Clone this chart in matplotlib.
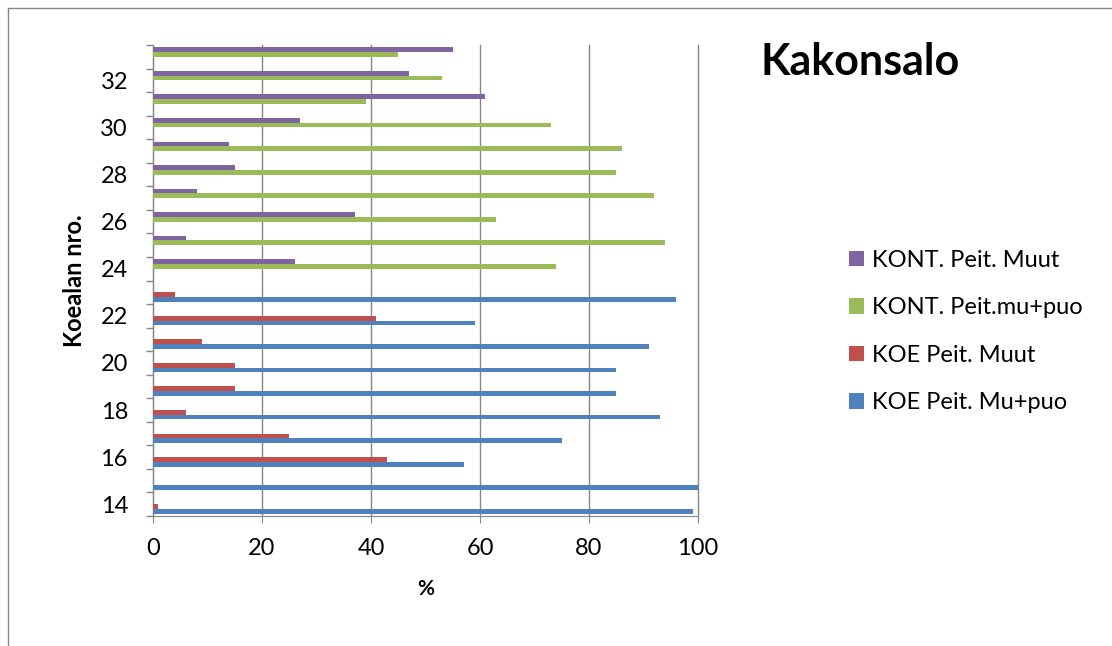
import matplotlib
matplotlib.use("Agg")
import matplotlib.pyplot as plt
import numpy as np
from matplotlib.patches import Patch
from matplotlib.lines import Line2D

categories = list(range(14, 34))
koe_mu_puo = [99, 100, 57, 75, 93, 85, 85, 91, 59, 96, 0, 0, 0, 0, 0, 0, 0, 0, 0, 0]
koe_muut = [1, 0, 43, 25, 6, 15, 15, 9, 41, 4, 0, 0, 0, 0, 0, 0, 0, 0, 0, 0]
kont_mu_puo = [0, 0, 0, 0, 0, 0, 0, 0, 0, 0, 74, 94, 63, 92, 85, 86, 73, 39, 53, 45]
kont_muut = [0, 0, 0, 0, 0, 0, 0, 0, 0, 0, 26, 6, 37, 8, 15, 14, 27, 61, 47, 55]
series_names = ["KOE Peit. Mu+puo", "KOE Peit. Muut", "KONT. Peit.mu+puo", "KONT. Peit. Muut"]
colors = ["#4F81BD", "#C0504D", "#9BBB59", "#8064A2"]
x_ticks = [0, 20, 40, 60, 80, 100]

plt.rcParams['font.family'] = ['Lato', 'DejaVu Sans']

fig = plt.figure(figsize=(11.12, 6.46), dpi=100)
ax = fig.add_axes([153/1112, 1-516/646, (698-153)/1112, (516-45)/646])

y = np.arange(len(categories))
h = 0.2
offsets = [-1.5*h, -0.5*h, 0.5*h, 1.5*h]
data = [koe_mu_puo, koe_muut, kont_mu_puo, kont_muut]
for vals, off, c in zip(data, offsets, colors):
    ax.barh(y + off, vals, height=h, color=c, edgecolor='none', zorder=3)

ax.set_xlim(0, 100)
ax.set_ylim(-0.5, len(categories) - 0.5)
ax.set_xticks(x_ticks)
ax.set_xticklabels([str(t) for t in x_ticks], fontsize=17)
ax.xaxis.grid(True, color='#868686', linewidth=1.0, zorder=0)
for gl in ax.get_xgridlines():
    gl.set_clip_on(False)
ax.set_axisbelow(True)

major = [i for i, c in enumerate(categories) if c % 2 == 0]
ax.set_yticks(major)
ax.set_yticklabels([str(categories[i]) for i in major], fontsize=17)
ax.set_yticks(np.arange(-0.5, len(categories)), minor=True)
ax.tick_params(axis='y', which='major', length=0, pad=18)
ax.tick_params(axis='y', which='minor', length=5, color='#868686', width=1)
ax.tick_params(axis='x', which='major', length=5, color='#868686', pad=11)

for s in ['top', 'right']:
    ax.spines[s].set_visible(False)
ax.spines['left'].set_color('#868686')
ax.spines['bottom'].set_color('#868686')

ax.set_xlabel('%', fontsize=15, fontweight='bold', labelpad=14)
ax.set_ylabel('Koealan nro.', fontsize=17, fontweight='bold', labelpad=10)

fig.text(760/1112, 1-62/646, 'Kakonsalo', fontsize=31, fontweight='bold', va='center', ha='left')

handles = [Patch(facecolor=colors[i], edgecolor='none') for i in [3, 2, 1, 0]]
labels = [series_names[i] for i in [3, 2, 1, 0]]
fig.legend(handles, labels, loc='upper left', bbox_to_anchor=(849/1112, 1-250/646),
           frameon=False, fontsize=17, handlelength=0.62, handleheight=0.62,
           handletextpad=0.35, labelspacing=1.12, borderaxespad=0, borderpad=0)

fig.add_artist(Line2D([8/1112, 1.0], [1-8/646, 1-8/646], color='#868686', lw=1, transform=fig.transFigure))
fig.add_artist(Line2D([8/1112, 8/1112], [0, 1-8/646], color='#868686', lw=1, transform=fig.transFigure))

fig.savefig('out.png', dpi=100)
